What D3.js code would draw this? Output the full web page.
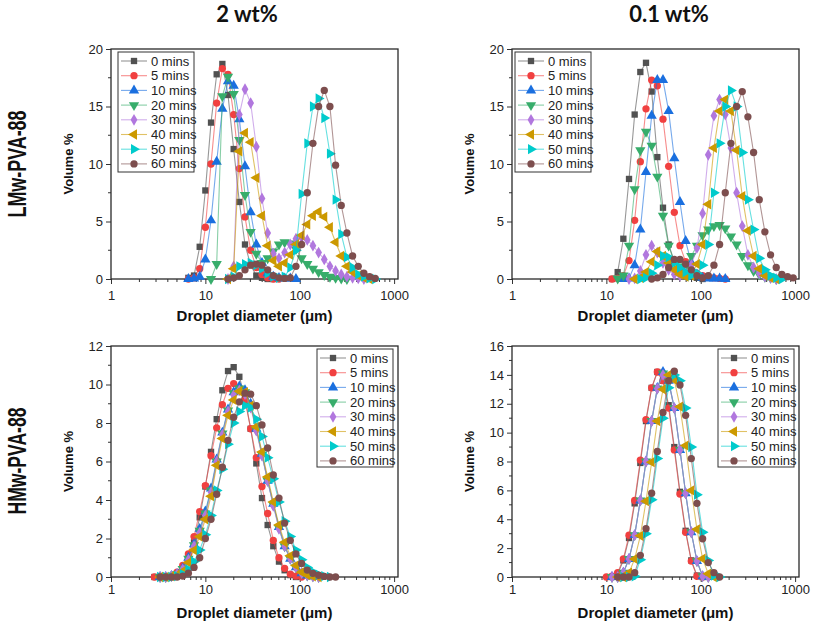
<!DOCTYPE html>
<html><head><meta charset="utf-8">
<script src="https://cdn.jsdelivr.net/npm/d3@7"></script>
<style>body{margin:0;background:#fff}svg{display:block}</style>
</head><body>
<svg id="c" width="817" height="626"></svg>
<script>
// Size bins (µm) read from the point spacing; index = k + 9 (k=0 -> 10 µm)
const BINS = [2.884,3.311,3.802,4.365,5.012,5.754,6.607,7.586,8.710,
  10.00,11.48,13.18,15.14,17.38,19.95,22.91,26.30,30.20,34.67,39.81,45.71,52.48,60.26,69.18,79.43,91.20,
  104.7,120.2,138.0,158.5,182.0,208.9,239.9,275.4,316.2,363.1,416.9,478.6,549.5,631.0,724.4,831.8,955.0];
const SERIES = ["0 mins","5 mins","10 mins","20 mins","30 mins","40 mins","50 mins","60 mins"];
const COLORS = ["#515151","#F14040","#1A6FDF","#37AD6B","#B177DE","#CC9900","#00CBCC","#7D4E4E"];
const X_TICKS = [1,10,100,1000];
const COL_TITLES = ["2 wt%","0.1 wt%"];
const ROW_TITLES = ["LMw-PVA-88","HMw-PVA-88"];

// LMw-PVA-88, 2 wt%  (first bin k of each series, then volume %)
const LMW2_START = [-3,-3,-3,1,4,4,4,4];
const LMW2_VOL = [
 [0.1,0.3,2.8,7.7,13.6,17.8,18.7,16.0,11.3,6.7,3.0,1.2,0.3,0.1,0,0],
 [0,0.1,0.9,4.5,10.0,15.3,18.3,17.8,14.3,9.6,5.4,2.5,1.0,0.4,0.1,0,0],
 [0,0.05,0.2,1.7,5.1,10.2,14.8,17.2,16.8,13.9,9.8,5.8,3.0,1.4,0.5,0.2,0.1,0.05,0.05,0],
 [0,1.3,15.9,17.6,16.1,12.1,7.3,4.1,2.2,1.4,1.8,2.4,3.0,3.2,3.1,2.6,1.8,1.3,0.9,0.6,0.35,0.2,0.1,0.05,0],
 [0,1.1,14.3,16.5,15.3,11.5,7.0,4.0,2.2,1.8,2.3,3.0,3.5,3.6,3.4,2.9,2.3,1.7,1.1,0.7,0.4,0.2,0.1,0.05,0],
 [0,0.9,11.1,12.7,11.9,8.8,5.5,2.9,1.6,1.1,1.4,2.1,3.0,3.8,4.75,5.5,5.85,5.4,4.5,3.2,2.0,1.1,0.6,0.3,0.1,0],
 [0,0.2,1.1,1.3,1.4,1.2,0.9,0.5,0.2,0.1,0.2,1.0,2.5,7.4,11.8,15.0,15.7,14.0,10.9,6.9,3.9,1.9,1.0,0.4,0.2,0.05,0],
 [0,0.1,0.3,0.8,1.2,1.3,1.2,0.8,0.3,0.1,0.05,0.1,1.1,3.0,7.5,11.8,15.0,16.4,15.0,9.9,6.4,4.0,2.0,1.1,0.5,0.2,0.05]
];
// LMw-PVA-88, 0.1 wt%
const LMW01_START = [1,1,3,2,4,5,6,8];
const LMW01_VOL = [
 [0,0.6,3.5,8.7,14.3,18.0,18.8,16.3,10.6,6.2,3.0,1.5,0.8,0.4,0.2,0.1,0],
 [0,0.05,0.3,1.6,5.1,10.2,14.8,17.3,16.8,13.9,9.8,5.8,2.9,1.5,0.8,0.5,0.3,0.2,0.1,0.05,0],
 [0,0.05,1.2,4.3,9.3,14.2,17.3,17.3,14.6,10.5,6.7,3.3,1.4,0.4,0.1,0.05,0.05,0.05,0],
 [0.05,0.3,2.9,7.8,11.2,12.8,11.6,8.9,5.5,2.9,1.5,1.1,1.1,2.0,2.9,3.8,4.3,4.6,4.7,4.4,3.7,3.0,2.0,1.2,0.7,0.4,0.2,0.1,0],
 [0,0.05,0.7,2.1,2.9,2.3,1.4,0.8,0.4,0.3,0.5,1.2,2.7,5.7,10.8,14.2,15.6,14.3,11.4,7.5,4.6,2.1,1.0,0.5,0.2,0.1,0],
 [0,0.1,0.6,1.5,2.4,2.0,1.4,0.8,0.4,0.2,0.3,1.3,3.0,6.5,11.4,14.6,15.6,14.6,11.2,7.2,4.2,2.0,0.9,0.3,0.1,0],
 [0,0.1,0.5,1.2,2.0,1.9,1.4,1.0,0.6,0.3,0.5,1.2,3.0,7.5,11.8,15.0,16.4,15.0,11.0,6.9,4.3,1.8,0.8,0.3,0.1,0],
 [0,0.1,0.4,1.0,1.7,1.7,1.3,0.8,0.3,0.1,0.3,1.2,3.0,7.5,11.8,15.0,16.3,14.1,11.0,6.9,4.1,2.1,1.0,0.4,0.2,0.1]
];
// HMw-PVA-88, 2 wt%
const HMW2_START = [-9,-9,-8,-8,-8,-8,-8,-8];
const HMW2_VOL = [
 [0,0,0,0,0.05,0.3,0.9,1.8,3.1,4.7,6.5,8.2,9.7,10.7,10.9,10.4,9.3,7.7,5.9,4.1,2.7,1.6,0.8,0.35,0.1,0],
 [0,0,0,0.05,0.25,0.6,1.2,2.1,3.4,4.75,6.3,7.75,8.95,9.8,10.05,9.8,9.2,7.7,6.2,4.7,3.3,1.9,1.0,0.45,0.15,0.05,0],
 [0,0,0.05,0.15,0.45,1.0,1.7,2.5,3.4,4.6,6.1,7.5,8.7,9.6,9.9,9.7,9.0,7.7,6.4,5.0,3.8,2.6,1.6,0.95,0.5,0.2,0.08,0.03,0],
 [0,0,0.05,0.15,0.42,0.95,1.65,2.4,3.3,4.5,6.0,7.45,8.65,9.55,9.8,9.6,8.9,7.65,6.35,5.0,3.75,2.55,1.6,0.95,0.5,0.2,0.08,0.03,0],
 [0,0,0.05,0.15,0.4,0.9,1.6,2.3,3.2,4.4,6.0,7.4,8.6,9.45,9.7,9.5,8.8,7.6,6.3,5.0,3.7,2.5,1.6,0.95,0.5,0.2,0.08,0.03,0],
 [0,0,0.05,0.1,0.3,0.75,1.4,2.1,3.0,4.2,5.8,7.2,8.4,9.2,9.65,9.6,8.9,7.8,6.5,5.2,3.9,2.7,1.8,1.1,0.6,0.25,0.1,0.03,0],
 [0,0,0,0.05,0.15,0.4,0.8,1.4,2.2,3.2,4.5,5.6,6.9,8.0,8.6,8.9,8.8,8.2,7.3,6.2,5.1,3.9,2.9,2.1,1.4,0.9,0.5,0.27,0.12,0.05,0],
 [0,0,0,0,0.05,0.2,0.5,1.0,2.0,3.0,4.3,5.7,7.1,8.3,9.1,9.55,9.5,8.9,7.9,6.7,5.3,4.1,2.8,1.9,1.2,0.7,0.36,0.19,0.09,0.03,0,0]
];
// HMw-PVA-88, 0.1 wt%
const HMW01_START = [1,0,1,1,1,2,3,2];
const HMW01_VOL = [
 [0,0.2,1.15,2.7,5.1,7.9,10.8,13.1,14.2,13.6,11.9,9.0,5.9,3.2,1.15,0.1,0],
 [0,0.05,0.3,1.25,2.9,5.3,8.1,10.9,13.1,14.2,13.6,11.7,8.8,5.75,3.1,1.1,0.05,0],
 [0,0,0.3,1.25,2.9,5.3,8.0,10.8,13.1,14.2,13.6,11.7,8.8,5.8,3.1,1.1,0.05,0],
 [0,0,0.3,1.25,2.9,5.3,8.0,10.8,13.05,14.1,13.5,11.7,8.8,5.8,3.1,1.1,0.05,0],
 [0,0,0.3,1.25,2.9,5.3,8.0,10.8,13.05,14.0,13.5,11.7,8.8,5.8,3.1,1.1,0.05,0],
 [0,0,0.3,1.25,2.85,5.25,7.95,10.8,13.0,14.0,13.65,11.8,9.1,6.0,3.3,1.27,0.23,0],
 [0,0,0.05,1.2,3.0,5.35,8.2,11.0,13.1,14.0,13.6,11.7,9.0,5.7,3.1,1.15,0.1,0],
 [0,0,0,0.3,1.5,3.35,5.8,8.7,11.4,13.6,14.25,13.3,11.2,8.2,5.1,2.65,1.0,0.3,0]
];

const svg = d3.select('#c');
const FONT = "'Liberation Sans', Arial, sans-serif";
const W = 287;
const panels = [
 {x0:111, y0:49, y1:279, ymax:20, step:5, start:LMW2_START, vol:LMW2_VOL, leg:[118,52,76,120], xTickBase:300, xTitle:321},
 {x0:512, y0:49, y1:279, ymax:20, step:5, start:LMW01_START, vol:LMW01_VOL, leg:[515,52,76,120], xTickBase:300, xTitle:321},
 {x0:111, y0:346, y1:577, ymax:12, step:2, start:HMW2_START, vol:HMW2_VOL, leg:[317,349,76,118], xTickBase:594, xTitle:618},
 {x0:512, y0:346, y1:577, ymax:16, step:2, start:HMW01_START, vol:HMW01_VOL, leg:[718,349,76,118], xTickBase:594, xTitle:618}
];

function symbolPath(i){
  const types = [d3.symbolSquare,d3.symbolCircle,d3.symbolTriangle,d3.symbolTriangle,d3.symbolDiamond,d3.symbolTriangle,d3.symbolTriangle,d3.symbolCircle];
  const sizes = [40,42,46,46,40,46,46,42];
  return d3.symbol(types[i], sizes[i])();
}
const ROT = [0,0,0,180,0,-90,90,0];

panels.forEach(p => {
  const x = d3.scaleLog().domain([1,1100]).range([p.x0, p.x0+W]);
  const y = d3.scaleLinear().domain([0,p.ymax]).range([p.y1, p.y0]);
  const g = svg.append('g');

  // axes
  const xAxis = d3.axisBottom(x).tickValues(X_TICKS).tickFormat(d3.format('d')).tickSize(5).tickPadding(4);
  const gx = g.append('g').attr('transform',`translate(0,${p.y1})`).call(xAxis);
  const minors = [];
  [1,10,100,1000].forEach(d => { for(let m=2;m<=9;m++){ if(d*m<1100) minors.push(d*m);} });
  gx.selectAll('.minor').data(minors).join('line').attr('class','minor')
    .attr('x1',d=>x(d)).attr('x2',d=>x(d)).attr('y1',0).attr('y2',3).attr('stroke','#333');
  gx.select('.domain').remove();
  gx.selectAll('.tick line').attr('stroke','#333');
  gx.selectAll('.tick text').attr('font-family',FONT).attr('font-size',13).attr('fill','#222')
    .attr('y', null).attr('dy',null).attr('transform',`translate(0,${p.xTickBase - p.y1})`);

  const yTicks = d3.range(0, p.ymax+0.001, p.step);
  const yAxis = d3.axisLeft(y).tickValues(yTicks).tickFormat(d3.format('d')).tickSize(5).tickPadding(3);
  const gy = g.append('g').attr('transform',`translate(${p.x0},0)`).call(yAxis);
  gy.select('.domain').remove();
  gy.selectAll('.tick line').attr('stroke','#333');
  gy.selectAll('.tick text').attr('font-family',FONT).attr('font-size',13).attr('fill','#222');
  const yMinor = yTicks.slice(0,-1).map(v=>v+p.step/2);
  gy.selectAll('.minor').data(yMinor).join('line').attr('class','minor')
    .attr('x1',0).attr('x2',-3).attr('y1',d=>y(d)).attr('y2',d=>y(d)).attr('stroke','#333');

  // frame
  g.append('rect').attr('x',p.x0).attr('y',p.y0).attr('width',W).attr('height',p.y1-p.y0)
    .attr('fill','none').attr('stroke','#2a2a2a').attr('stroke-width',1.3);

  // axis titles
  g.append('text').attr('x',p.x0+W/2).attr('y',p.xTitle).attr('text-anchor','middle')
    .attr('font-family',FONT).attr('font-weight','bold').attr('font-size',15).attr('fill','#111')
    .text('Droplet diameter (μm)');
  g.append('text').attr('transform',`translate(${p.x0-38},${(p.y0+p.y1)/2}) rotate(-90)`)
    .attr('text-anchor','middle').attr('font-family',FONT).attr('font-weight','bold')
    .attr('font-size',13).attr('fill','#111').text('Volume %');

  // series
  const line = d3.line().x(d=>x(d[0])).y(d=>y(d[1]));
  p.vol.forEach((vals,i) => {
    const pts = vals.map((v,j)=>[BINS[p.start[i]+9+j], v]);
    const sg = g.append('g');
    sg.append('path').attr('d',line(pts)).attr('fill','none').attr('stroke',COLORS[i])
      .attr('stroke-width',1.1).attr('stroke-opacity',0.6);
    sg.selectAll('path.m').data(pts).join('path').attr('class','m')
      .attr('d',symbolPath(i)).attr('fill',COLORS[i])
      .attr('transform',d=>`translate(${x(d[0])},${y(d[1])}) rotate(${ROT[i]})`);
  });

  // legend
  const [lx,ly,lw,lh] = p.leg;
  const lg = g.append('g');
  lg.append('rect').attr('x',lx).attr('y',ly).attr('width',lw).attr('height',lh)
    .attr('fill','#fff').attr('stroke','#333').attr('stroke-width',1);
  SERIES.forEach((s,i)=>{
    const cy = ly + 9 + i*14.7;
    lg.append('line').attr('x1',lx+3).attr('x2',lx+29).attr('y1',cy).attr('y2',cy)
      .attr('stroke',COLORS[i]).attr('stroke-width',1.1).attr('stroke-opacity',0.6);
    lg.append('path').attr('d',symbolPath(i)).attr('fill',COLORS[i])
      .attr('transform',`translate(${lx+16},${cy}) rotate(${ROT[i]})`);
    lg.append('text').attr('x',lx+33).attr('y',cy).attr('dy','0.35em')
      .attr('font-family',FONT).attr('font-size',13).attr('fill','#222').text(s);
  });
});

// column titles
svg.selectAll('text.col').data(COL_TITLES).join('text').attr('class','col')
  .attr('x',(d,i)=>[247,669][i]).attr('y',22).attr('text-anchor','middle')
  .attr('font-family',"Lato, 'Open Sans', sans-serif").attr('font-weight','bold').attr('font-size',22)
  .attr('fill','#111').text(d=>d);
// row titles
svg.selectAll('text.row').data(ROW_TITLES).join('text').attr('class','row')
  .attr('transform',(d,i)=>`translate(26,${[164,461][i]}) rotate(-90)`)
  .attr('text-anchor','middle').attr('font-family',FONT).attr('font-weight','bold').attr('font-size',25)
  .attr('textLength',107).attr('lengthAdjust','spacingAndGlyphs')
  .attr('fill','#111').text(d=>d);
</script>
</body></html>
